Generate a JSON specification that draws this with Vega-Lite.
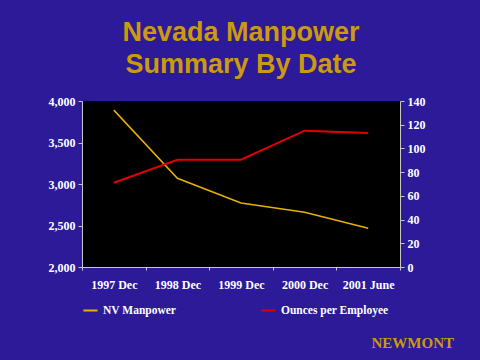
{
  "$schema": "https://vega.github.io/schema/vega-lite/v6.json",
  "background": "#2c1a98",
  "padding": {"left": 48, "top": 19, "right": 54, "bottom": 12},
  "title": {
    "text": "NEWMONT",
    "orient": "bottom",
    "anchor": "end",
    "font": "Liberation Serif",
    "fontSize": 15,
    "fontWeight": "bold",
    "color": "#CC9911",
    "offset": 20,
    "dx": 29
  },
  "vconcat": [
    {
      "width": 318,
      "height": 166,
      "title": {
        "text": ["Nevada Manpower", "Summary By Date"],
        "font": "Liberation Sans",
        "fontSize": 27,
        "fontWeight": "bold",
        "color": "#CC9911",
        "anchor": "middle",
        "frame": "group",
        "lineHeight": 32,
        "offset": 16
      },
      "data": {
        "values": [
          {"date": "1997 Dec", "manpower": 3890, "ounces": 71},
          {"date": "1998 Dec", "manpower": 3069, "ounces": 90.5},
          {"date": "1999 Dec", "manpower": 2771, "ounces": 90.5},
          {"date": "2000 Dec", "manpower": 2659, "ounces": 115},
          {"date": "2001 June", "manpower": 2466, "ounces": 113}
        ]
      },
      "encoding": {
        "x": {
          "field": "date",
          "type": "ordinal",
          "sort": null,
          "scale": {"type": "band", "paddingInner": 0, "paddingOuter": 0},
          "axis": {"tickBand": "extent", "labelAngle": 0, "title": null, "labelPadding": 9, "tickSize": 3}
        }
      },
      "layer": [
        {
          "mark": {"type": "line", "strokeWidth": 1.5},
          "encoding": {
            "y": {
              "field": "manpower",
              "type": "quantitative",
              "scale": {"domain": [2000, 4000]},
              "axis": {"values": [2000, 2500, 3000, 3500, 4000], "format": ",.0f", "title": null, "orient": "left"}
            },
            "color": {
              "datum": "NV Manpower",
              "type": "nominal",
              "scale": {"domain": ["NV Manpower", "Ounces per Employee"], "range": ["#E8B000", "#E00000"]},
              "legend": {
                "orient": "bottom",
                "direction": "horizontal",
                "title": null,
                "columnPadding": 80,
                "offset": 12
              }
            }
          }
        },
        {
          "mark": {"type": "line", "strokeWidth": 2},
          "encoding": {
            "y": {
              "field": "ounces",
              "type": "quantitative",
              "scale": {"domain": [0, 140]},
              "axis": {"values": [0, 20, 40, 60, 80, 100, 120, 140], "title": null, "orient": "right"}
            },
            "color": {"datum": "Ounces per Employee", "type": "nominal"}
          }
        }
      ],
      "resolve": {"scale": {"y": "independent"}}
    }
  ],
  "config": {
    "view": {"fill": "black", "stroke": null},
    "axis": {
      "grid": false,
      "labelFont": "Liberation Serif",
      "labelFontSize": 12,
      "labelFontWeight": "bold",
      "labelColor": "white",
      "domainColor": "#c8c8c8",
      "tickColor": "#c8c8c8",
      "tickSize": 4,
      "labelPadding": 3
    },
    "legend": {
      "labelFont": "Liberation Serif",
      "labelFontSize": 11.5,
      "labelFontWeight": "bold",
      "labelColor": "white",
      "symbolType": "stroke",
      "symbolStrokeWidth": 2,
      "symbolSize": 200
    }
  }
}
